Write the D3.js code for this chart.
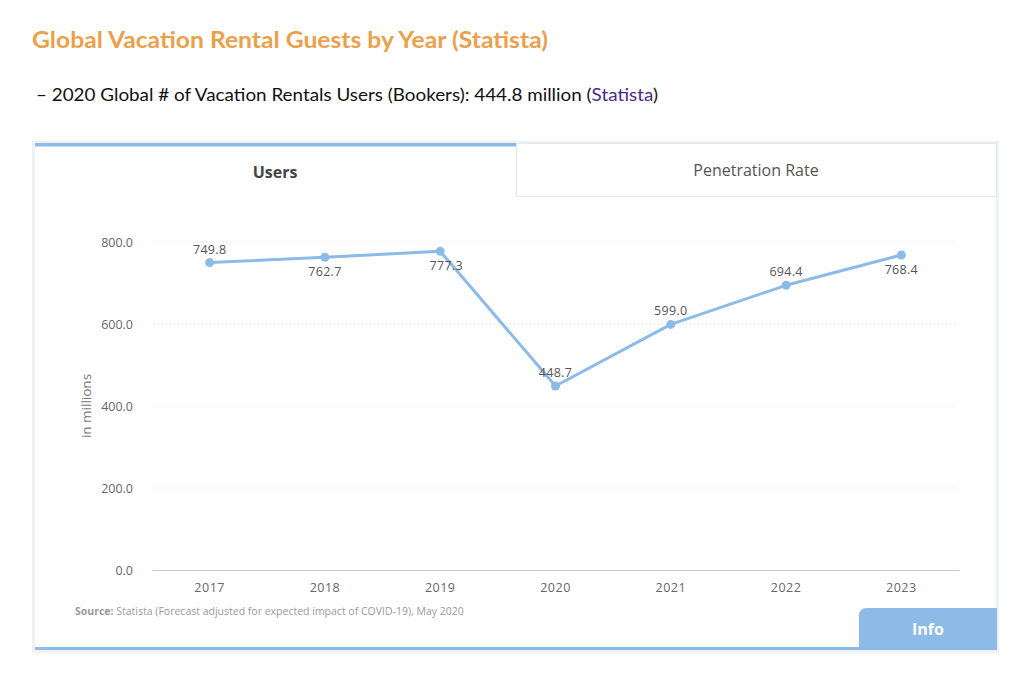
<!DOCTYPE html>
<html>
<head>
<meta charset="utf-8">
<script src="https://cdn.jsdelivr.net/npm/d3@7"></script>
<style>
  body { margin: 0; background: #fff; }
  svg { display: block; }
</style>
</head>
<body>
<div id="chart"></div>
<script>
// data
const years = ['2017', '2018', '2019', '2020', '2021', '2022', '2023']
const users = [749.8, 762.7, 777.3, 448.7, 599.0, 694.4, 768.4]
const yTicks = [0, 200, 400, 600, 800]

const width = 1030
const height = 694
const chartFont = '"Open Sans", "DejaVu Sans", sans-serif'
const blue = '#8cbbe8'

const svg = d3.select('#chart').append('svg')
  .attr('width', width)
  .attr('height', height)
  .attr('viewBox', `0 0 ${width} ${height}`)

// 页面标题
svg.append('text')
  .attr('x', 32).attr('y', 48)
  .attr('font-family', 'Lato, "Noto Sans", sans-serif')
  .attr('font-weight', 700)
  .attr('font-size', 22)
  .attr('fill', '#eba04c')
  .attr('textLength', 516)
  .attr('lengthAdjust', 'spacingAndGlyphs')
  .text('Global Vacation Rental Guests by Year (Statista)')

const sub = svg.append('text')
  .attr('x', 36).attr('y', 101)
  .attr('font-family', 'Lato, "Noto Sans", sans-serif')
  .attr('font-size', 17)
  .attr('fill', '#111')
  .attr('textLength', 622)
  .attr('lengthAdjust', 'spacingAndGlyphs')
sub.append('tspan').text('\u2013 2020 Global # of Vacation Rentals Users (Bookers): 444.8 million (')
sub.append('tspan').attr('fill', '#4a2a8c').text('Statista')
sub.append('tspan').text(')')

// 卡片外框
const card = { x: 33, y: 142, w: 965, h: 510 }
svg.append('rect')
  .attr('x', card.x - 1).attr('y', card.y - 1)
  .attr('width', card.w + 2).attr('height', card.h + 2)
  .attr('fill', '#eef1f5')
svg.append('rect')
  .attr('x', card.x + 2).attr('y', card.y + 1)
  .attr('width', card.w - 4).attr('height', card.h - 4)
  .attr('fill', '#fff')

// tabs
svg.append('rect')
  .attr('x', 35).attr('y', 143).attr('width', 481).attr('height', 3.5)
  .attr('fill', blue)
svg.append('rect')
  .attr('x', 516.5).attr('y', 143.5).attr('width', 480).attr('height', 53)
  .attr('fill', '#fff').attr('stroke', '#e3e6ea')
svg.append('text')
  .attr('x', 275).attr('y', 178)
  .attr('text-anchor', 'middle')
  .attr('font-family', chartFont).attr('font-weight', 700).attr('font-size', 16)
  .attr('fill', '#444')
  .text('Users')
svg.append('text')
  .attr('x', 756).attr('y', 176)
  .attr('text-anchor', 'middle')
  .attr('font-family', chartFont).attr('font-size', 16)
  .attr('fill', '#555')
  .text('Penetration Rate')

// 图表区域
const plot = { left: 152, right: 959, top: 242, bottom: 570 }
const x = d3.scaleBand().domain(years).range([plot.left, plot.right])
const y = d3.scaleLinear().domain([0, 800]).range([plot.bottom, plot.top])
const cx = d => x(d) + x.bandwidth() / 2

const grid = svg.append('g')
grid.selectAll('line')
  .data(yTicks.filter(t => t > 0))
  .join('line')
  .attr('x1', plot.left + 2).attr('x2', plot.right - 2)
  .attr('y1', d => y(d)).attr('y2', d => y(d))
  .attr('stroke', '#d8d8d8')
  .attr('stroke-dasharray', '1,3')

const yAxis = svg.append('g')
  .attr('transform', `translate(${plot.left - 16},0)`)
  .call(d3.axisLeft(y).tickValues(yTicks).tickFormat(d3.format('.1f')).tickSize(0))
yAxis.select('.domain').remove()
yAxis.selectAll('text')
  .attr('font-family', chartFont).attr('font-size', 12.5)
  .attr('fill', '#666')

const xAxis = svg.append('g')
  .attr('transform', `translate(0,${plot.bottom})`)
  .call(d3.axisBottom(x).tickSize(0).tickPadding(13))
xAxis.select('.domain').attr('stroke', '#c8c8c8')
xAxis.selectAll('text')
  .attr('font-family', chartFont).attr('font-size', 12.5)
  .attr('fill', '#666')
  .style('letter-spacing', '0.5px')

svg.append('text')
  .attr('transform', `translate(91,${(plot.top + plot.bottom) / 2}) rotate(-90)`)
  .attr('text-anchor', 'middle')
  .attr('font-family', chartFont).attr('font-size', 13.5)
  .attr('fill', '#777')
  .text('in millions')

// line + points
const line = d3.line()
  .x((d, i) => cx(years[i]))
  .y(d => y(d))
svg.append('path')
  .datum(users)
  .attr('d', line)
  .attr('fill', 'none')
  .attr('stroke', blue)
  .attr('stroke-width', 3)
  .attr('stroke-linejoin', 'round')

svg.append('g').selectAll('circle')
  .data(users)
  .join('circle')
  .attr('cx', (d, i) => cx(years[i]))
  .attr('cy', d => y(d))
  .attr('r', 4.5)
  .attr('fill', blue)

// 数值标签，部分放在点下方
const below = new Set([1, 2, 6])
svg.append('g').selectAll('text')
  .data(users)
  .join('text')
  .attr('x', (d, i) => cx(years[i]) + (i === 2 ? 6 : 0))
  .attr('y', (d, i) => y(d) + (below.has(i) ? 19 : -9))
  .attr('text-anchor', 'middle')
  .attr('font-family', chartFont).attr('font-size', 12.5)
  .attr('fill', '#555')
  .style('letter-spacing', '0.3px')
  .text(d => d3.format('.1f')(d))

// source
const src = svg.append('text')
  .attr('x', 75).attr('y', 615)
  .attr('font-family', chartFont).attr('font-size', 10.5)
  .attr('fill', '#999')
src.append('tspan').attr('font-weight', 700).text('Source:')
src.append('tspan').text(' Statista (Forecast adjusted for expected impact of COVID-19), May 2020')

// bottom stripe + Info button
svg.append('rect')
  .attr('x', 35).attr('y', 647).attr('width', 962).attr('height', 3)
  .attr('fill', blue)
svg.append('path')
  .attr('d', 'M859,650 V616 Q859,608 867,608 H997 V650 Z')
  .attr('fill', blue)
svg.append('text')
  .attr('x', 928).attr('y', 635)
  .attr('text-anchor', 'middle')
  .attr('font-family', chartFont).attr('font-weight', 700).attr('font-size', 16)
  .attr('fill', '#fff')
  .text('Info')
</script>
</body>
</html>
